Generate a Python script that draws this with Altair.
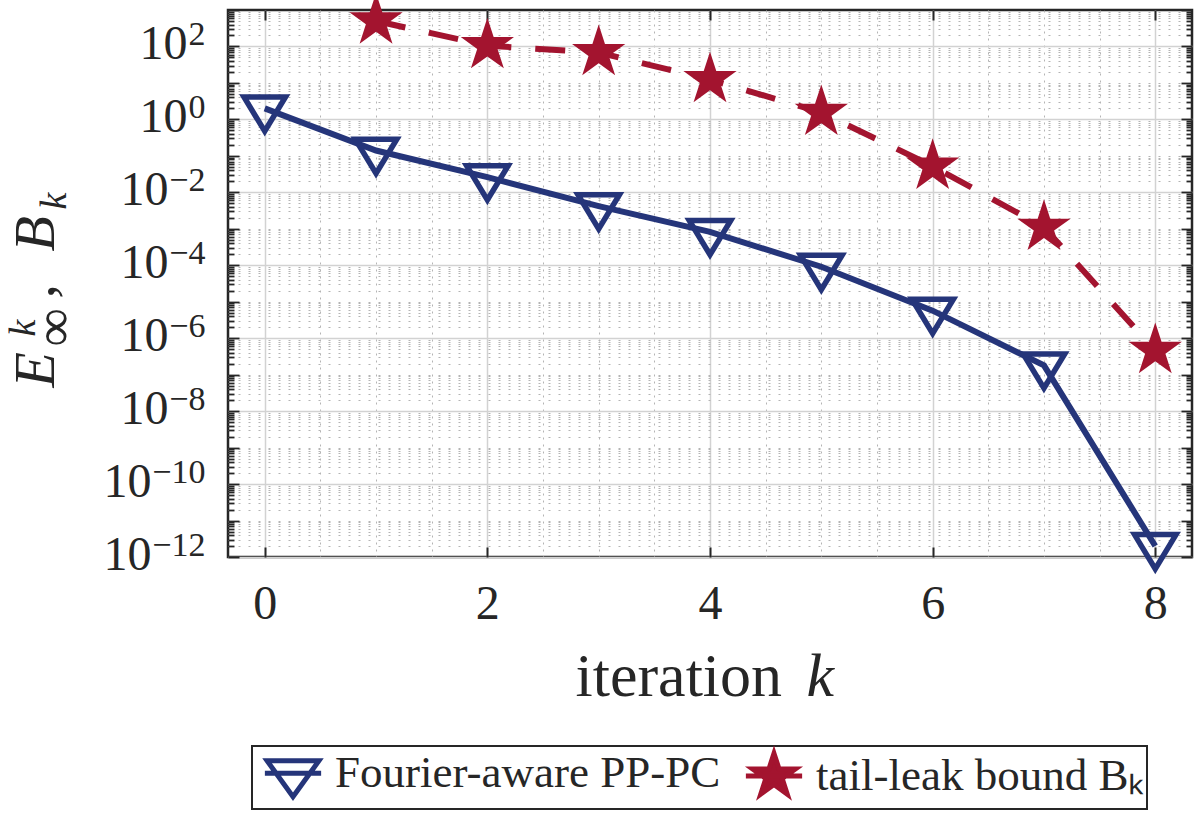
import altair as alt
import pandas as pd

# ---------------- data ----------------
iterations = [0, 1, 2, 3, 4, 5, 6, 7, 8]
pp_pc = [2.0, 0.14, 0.026, 4.2e-3, 8.2e-4, 9.1e-5, 5.7e-6, 1.8e-7, 2.0e-12]
bound_iter = [1, 2, 3, 4, 5, 6, 7, 8]
bound = [500, 105, 68, 12.3, 1.55, 0.052, 1.1e-3, 4.6e-7]
series_names = ["Fourier-aware PP-PC", "tail-leak bound Bₖ"]

x_major = [0, 2, 4, 6, 8]
x_minor = [0.5, 1, 1.5, 2.5, 3, 3.5, 4.5, 5, 5.5, 6.5, 7, 7.5]
y_label_exps = [2, 0, -2, -4, -6, -8, -10, -12]
y_decade_exps = list(range(-12, 3))
y_minor_mult = [2, 3, 4, 5, 6, 7, 8, 9]

# ---------------- style ----------------
W, H = 964, 547
PAD_L, PAD_T = 228, 10
BLUE = "#25357A"
RED = "#A3142F"
TXT = "#262626"
FONT = "Liberation Serif"

TRI = "M-1,-0.55L1,-0.55L0,1.1Z"
STAR = ("M0,-1L0.2245,-0.309L0.951,-0.309L0.363,0.118L0.588,0.809L0,0.382"
        "L-0.588,0.809L-0.363,0.118L-0.951,-0.309L-0.2245,-0.309Z")
TRI_LEG = "M-1.25,0H1.25M-1.15,-0.55L1.15,-0.55L0,1.05Z"
STAR_LEG = "M-1.25,0H1.25" + STAR

df_pp = pd.DataFrame({"k": iterations, "v": pp_pc})
df_bd = pd.DataFrame({"k": bound_iter, "v": bound})
df_leg = pd.DataFrame({"series": series_names})

# exponent labels (drawn as a smaller second label row)
exp_expr = ""
for e in y_label_exps:
    txt = str(e).replace("-", "−")
    exp_expr += f"datum.value > {10.0 ** (e - 1)!r} ? '{txt}' : "
exp_expr += "''"

y_major_vals = [10.0 ** e for e in y_label_exps]
y_decades = [10.0 ** e for e in y_decade_exps]
y_minor_vals = [m * 10.0 ** e for e in y_decade_exps for m in y_minor_mult]
y_tick_vals = y_decades + y_minor_vals + [1e3]

xscale = alt.Scale(domain=[-0.33, 8.33], nice=False, zero=False)
yscale = alt.Scale(type="log", domain=[1e-12, 1e3], nice=False)

decade_test = "abs(log(datum.value)/LN10 - round(log(datum.value)/LN10)) < 0.01"
ytick_size = {"condition": {"test": decade_test, "value": 11}, "value": 6}

EXP_SIZE = 34
EXP_PAD = 23
base_pad = {"condition": [{"test": "datum.value < 5e-10", "value": EXP_PAD + 54},
                          {"test": "datum.value < 0.5", "value": EXP_PAD + 37}],
            "value": EXP_PAD + 18}

# ---------------- axes ----------------
ax_x_main = alt.Axis(
    orient="bottom", values=x_major, format="d", labelFont=FONT, labelFontSize=48,
    labelColor=TXT, labelPadding=23, labelFlush=False, labelOverlap=False,
    ticks=False, tickSize=0, domain=False, grid=True, gridColor="#d2d2d2", gridWidth=1.5,
    title="iteration", titleFont=FONT, titleFontSize=62, titleFontWeight="normal",
    titleColor=TXT, titleX=575 - PAD_L, titleY=138, titleAlign="left",
    titleBaseline="alphabetic")
ax_y_main = alt.Axis(
    orient="left", values=y_major_vals, labelExpr="'10'", labelFont=FONT,
    labelFontSize=48, labelColor=TXT, labelPadding=base_pad, labelOffset=-2,
    labelBaseline="middle", labelAlign="right",
    labelFlush=False, labelOverlap=False, ticks=False, tickSize=0, domain=False,
    grid=True, gridColor="#d2d2d2", gridWidth=1.5,
    title="E", titleFont=FONT, titleFontSize=58, titleFontStyle="italic",
    titleFontWeight="normal", titleColor=TXT, titleAngle=270,
    titleX=53 - PAD_L, titleY=387 - PAD_T, titleAlign="left", titleBaseline="alphabetic")

ax_x_minor = alt.Axis(orient="bottom", values=x_minor, labels=False, ticks=False,
                      domain=False, grid=True, gridColor="#b4b4b4", gridDash=[2, 5],
                      gridWidth=1, title=None)
ax_y_minor = alt.Axis(orient="left", values=y_minor_vals + y_decades[1::2], labels=False,
                      ticks=False, domain=False, grid=True, gridColor="#b4b4b4",
                      gridDash=[2, 8], gridWidth=1, title=None)

ax_y_exp = alt.Axis(orient="left", values=y_major_vals, labelExpr=exp_expr, labelFont=FONT,
                    labelFontSize=EXP_SIZE, labelColor=TXT, labelPadding=EXP_PAD,
                    labelOffset=-12, labelBaseline="middle", labelAlign="right",
                    labelFlush=False, labelOverlap=False, ticks=False, tickSize=0,
                    domain=False, grid=False, title=None)

# inward ticks: flipped orient pulled across the plot by a negative offset
ax_x_tick_bottom = alt.Axis(orient="top", offset=-H, values=x_major, labels=False,
                            domain=False, grid=False, ticks=True, tickSize=10,
                            tickWidth=2, tickColor=TXT, title=None)
ax_x_tick_top = alt.Axis(orient="bottom", offset=-H, values=x_major, labels=False,
                         domain=False, grid=False, ticks=True, tickSize=10,
                         tickWidth=2, tickColor=TXT, title=None)
ax_y_tick_left = alt.Axis(orient="right", offset=-W, values=y_tick_vals, labels=False,
                          domain=False, grid=False, ticks=True, tickSize=ytick_size,
                          tickWidth=1.8, tickColor=TXT, title=None)
ax_y_tick_right = alt.Axis(orient="left", offset=-W, values=y_tick_vals, labels=False,
                           domain=False, grid=False, ticks=True, tickSize=ytick_size,
                           tickWidth=1.8, tickColor=TXT, title=None)


def y_title_piece(text, size, italic, bx, sy):
    ax = alt.Axis(orient="left", labels=False, ticks=False, domain=False, grid=False,
                  title=text, titleFont=FONT, titleFontSize=size,
                  titleFontStyle="italic" if italic else "normal",
                  titleFontWeight="normal", titleColor=TXT, titleAngle=270,
                  titleX=bx - PAD_L, titleY=sy - PAD_T, titleAlign="left",
                  titleBaseline="alphabetic")
    return alt.Chart(df_pp).mark_point(opacity=0).encode(
        x=alt.X("k:Q", scale=xscale, axis=None),
        y=alt.Y("v:Q", scale=yscale, axis=ax))


# ---------------- layers ----------------
grid_minor = alt.Chart(df_pp).mark_point(opacity=0).encode(
    x=alt.X("k:Q", scale=xscale, axis=ax_x_minor),
    y=alt.Y("v:Q", scale=yscale, axis=ax_y_minor))

line_pp = alt.Chart(df_pp).mark_line(color=BLUE, strokeWidth=6).encode(
    x=alt.X("k:Q", scale=xscale, axis=ax_x_main),
    y=alt.Y("v:Q", scale=yscale, axis=ax_y_main))

exp_layer = alt.Chart(df_pp).mark_point(opacity=0).encode(
    x=alt.X("k:Q", scale=xscale,
            axis=alt.Axis(orient="bottom", labels=False, ticks=False, domain=False,
                          grid=False, title="k", titleFont=FONT, titleFontSize=62,
                          titleFontStyle="italic", titleFontWeight="normal",
                          titleColor=TXT, titleX=806 - PAD_L, titleY=138,
                          titleAlign="left", titleBaseline="alphabetic")),
    y=alt.Y("v:Q", scale=yscale, axis=ax_y_exp))

line_bd = alt.Chart(df_bd).mark_line(color=RED, strokeWidth=6, strokeDash=[30, 24]).encode(
    x=alt.X("k:Q", scale=xscale, axis=None),
    y=alt.Y("v:Q", scale=yscale, axis=None))

pts_pp = alt.Chart(df_pp).mark_point(
    shape=TRI, size=1722, filled=False, stroke=BLUE, strokeWidth=5.5, opacity=1,
    strokeJoin="miter").encode(
    x=alt.X("k:Q", scale=xscale, axis=None),
    y=alt.Y("v:Q", scale=yscale, axis=None))

pts_bd = alt.Chart(df_bd).mark_point(
    shape=STAR, size=3136, filled=True, fill=RED, opacity=1, strokeWidth=0).encode(
    x=alt.X("k:Q", scale=xscale, axis=None),
    y=alt.Y("v:Q", scale=yscale, axis=None))

ticks_a = alt.Chart(df_pp).mark_point(opacity=0).encode(
    x=alt.X("k:Q", scale=xscale, axis=ax_x_tick_bottom),
    y=alt.Y("v:Q", scale=yscale, axis=ax_y_tick_left))
ticks_b = alt.Chart(df_pp).mark_point(opacity=0).encode(
    x=alt.X("k:Q", scale=xscale, axis=ax_x_tick_top),
    y=alt.Y("v:Q", scale=yscale, axis=ax_y_tick_right))

title_k_sup = y_title_piece("k", 38, True, 34, 336)
title_inf = y_title_piece("∞", 54, False, 71, 346)
title_comma = y_title_piece(",", 58, True, 53, 298)
title_b = y_title_piece("B", 58, True, 53, 251)
title_k_sub = y_title_piece("k", 38, True, 65, 209)

leg = alt.Legend(
    title=None, orient="none", legendX=24, legendY=736, direction="horizontal",
    symbolSize=2025, symbolStrokeWidth=5, symbolOpacity=1, symbolOffset=14,
    labelFont=FONT, labelFontSize=45, labelColor=TXT, labelLimit=0, labelOffset=17,
    columnPadding=14, padding=2, strokeColor=TXT, fillColor="white", cornerRadius=0)

legend_layer = alt.Chart(df_leg).mark_point(opacity=0).encode(
    shape=alt.Shape("series:N", scale=alt.Scale(domain=series_names, range=[TRI_LEG, STAR_LEG]), legend=leg),
    stroke=alt.Stroke("series:N", scale=alt.Scale(domain=series_names, range=[BLUE, RED]), legend=leg),
    fill=alt.Fill("series:N", scale=alt.Scale(domain=series_names, range=["transparent", RED]), legend=leg))

chart = alt.layer(
    grid_minor, line_pp, exp_layer, line_bd, pts_pp, pts_bd, ticks_a, ticks_b,
    title_k_sup, title_inf, title_comma, title_b, title_k_sub, legend_layer
).resolve_axis(
    x="independent", y="independent"
).properties(
    width=W, height=H,
    autosize=alt.AutoSizeParams(type="none"),
    padding={"left": PAD_L, "top": PAD_T, "right": 5, "bottom": 257},
    background="white",
).configure_view(
    stroke=TXT, strokeWidth=2.5
).configure_legend(
    strokeWidth=2
)

chart.save("out.html", embed_options={"renderer": "svg", "actions": False})
